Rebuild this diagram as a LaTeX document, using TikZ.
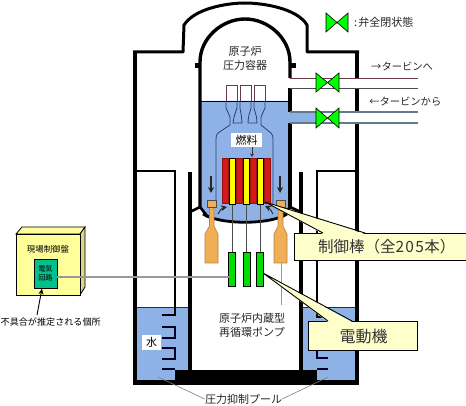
\documentclass[tikz,border=0pt]{standalone}
\usepackage{fontspec}
\setmainfont{Noto Sans CJK JP}
\usetikzlibrary{arrows.meta}
\definecolor{wat}{HTML}{8FB2E6}
\definecolor{maro}{HTML}{6A3A4A}
\definecolor{shr}{HTML}{2A3F78}
\definecolor{pip}{HTML}{66788F}
\definecolor{org}{HTML}{F0AE55}
\definecolor{rd}{HTML}{D81818}
\definecolor{yl}{HTML}{FFFF00}
\definecolor{gr}{HTML}{00E000}
\definecolor{vg}{HTML}{00FF00}
\definecolor{cal}{HTML}{FFFFCC}
\definecolor{pan}{HTML}{FFFF99}
\definecolor{pans}{HTML}{D8D88C}
\definecolor{tl}{HTML}{00C08C}
\tikzset{
  wall/.style={draw=black,line width=4pt},
  thinwall/.style={draw=black,line width=1.6pt},
  vent/.style={draw=black!85!blue,line width=2pt},
  lbl/.style={inner sep=0pt,font=\fontsize{11}{14}\selectfont,align=center,text=black!85},
  pipelbl/.style={inner sep=0pt,font=\fontsize{10.3}{13}\selectfont,text=black!85},
  sm/.style={inner sep=0pt,font=\fontsize{8.6}{10}\selectfont,align=center},
  bar/.style={draw=black,line width=0.6pt},
  callout/.style={draw=black,line width=0.9pt,fill=cal},
  bigl/.style={inner sep=0pt,font=\fontsize{15.5}{18}\selectfont,text=black!80},
  arr/.style={draw=black!85,line width=1.3pt,-{Stealth[length=6pt,width=6pt]}},
  wbox/.style={fill=white,inner sep=0pt,minimum width=19pt,minimum height=15pt}
}
\newcommand{\valveat}[4]{% x1 x2 ytop ybottom
  \draw[fill=vg,draw=black,line width=0.6pt] (#1,#3)--(#1,#4)--({(#1+#2)/2},{(#3+#4)/2})--cycle;
  \draw[fill=vg,draw=black,line width=0.6pt] (#2,#3)--(#2,#4)--({(#1+#2)/2},{(#3+#4)/2})--cycle;
}
\begin{document}
\begin{tikzpicture}[x=1pt,y=-1pt]
\useasboundingbox (0,0) rectangle (466,406);
% water
\fill[wat] (137,307) rectangle (188,380);
\fill[wat] (303,307) rectangle (355,380);
\fill[wat] (200,101)--(290,101)--(290,207)--(287,214) .. controls (270,224) and (220,224) .. (203,214)--(200,207)--cycle;
\draw[draw=shr!70!black,line width=0.7pt] (137,307)--(188,307) (303,307)--(355,307);
% outer containment
\draw[black,line width=3pt,line join=round] (133,52)--(183,52)--(184,25) .. controls (195,8) and (228,3) .. (245,3) .. controls (262,3) and (297,8) .. (307,25)--(307,52)--(359,52);
\draw[wall] (135,52)--(135,385);
\draw[wall] (357,52)--(357,78) (357,88)--(357,112) (357,123)--(357,385);
% inner boxes
\draw[thinwall,line join=miter] (135,171)--(175,171)--(175,315)--(162,315);
\draw[thinwall,line join=miter] (357,171)--(317,171)--(317,317)--(328,317);
\draw[wall] (190,172)--(190,370);
\draw[wall] (301,172)--(301,370);
% floor
\fill[black] (175,370) rectangle (317,385);
\fill[black] (133,380) rectangle (359,385);
% vents
\draw[vent] (162,327)--(175,327)--(175,338)--(162,338);
\draw[vent] (162,348)--(175,348)--(175,359)--(162,359);
\draw[vent] (162,368.5)--(175,368.5);
\draw[vent] (328,327)--(317,327)--(317,338)--(328,338);
\draw[vent] (328,348)--(317,348)--(317,358)--(328,358);
\draw[vent] (328,368.5)--(317,368.5);
% vessel
\draw[black,line width=3.4pt] (200,207)--(200,62) .. controls (200,38) and (222,19) .. (245,19) .. controls (268,19) and (290,38) .. (290,62)--(290,78);
\draw[black,line width=3.4pt] (290,88)--(290,112) (290,123)--(290,207);
\fill[black] (195,63) rectangle (199,68);
\fill[black] (291,63) rectangle (296,68);
\draw[black,line width=0.9pt] (200,101)--(290,101);
% skirts and bottom head
\draw[black,line width=2.6pt,line join=round] (190,212)--(200,207)--(208,217);
\draw[black,line width=2.6pt,line join=round] (301,212)--(290,207)--(282,217);
\draw[black,line width=2.8pt] (203,214) .. controls (220,225) and (270,225) .. (287,214);
% pipes
\fill[white] (288,79) rectangle (360,87);
\fill[wat] (288,113) rectangle (316,122);
\fill[white] (339,113) rectangle (360,122);
\draw[maro,line width=0.9pt] (290,78)--(418,78);
\draw[black!70,line width=0.9pt] (290,88)--(418,88);
\draw[pip,line width=1.3pt] (290,112)--(418,112) (290,123)--(418,123);
\valveat{316}{339}{73}{92}
\valveat{316}{339}{108}{128}
\valveat{326}{348}{13}{32}
% separators
\draw[maro,line width=0.8pt] (226,101)--(226,85)--(237,85)--(237,101) (240,101)--(240,85)--(251,85)--(251,101) (254,101)--(254,85)--(265,85)--(265,101);
\draw[shr,line width=0.8pt,line join=round] (226,101)--(226,108)--(230,117)--(230,125)--(218,133) .. controls (216,135) and (216,137) .. (216,140)--(216,205);
\draw[shr,line width=0.8pt,line join=round] (265,101)--(265,108)--(261,117)--(261,125)--(271,133) .. controls (273,135) and (273,137) .. (273,140)--(273,205);
\draw[shr,line width=0.8pt,line join=round] (237,101)--(237,108)--(234,117)--(233,123)--(242,123)--(241.5,117)--(240,108)--(240,101);
\draw[shr,line width=0.8pt,line join=round] (251,101)--(251,108)--(248.5,117)--(248,123)--(257,123)--(256.5,117)--(254,108)--(254,101);
% rods
\draw[black!70,line width=1pt] (232,204)--(232,252) (246,204)--(246,252) (260,204)--(260,252);
% fuel
\foreach \xa in {222,236,250,264}{\draw[bar,fill=rd,draw=rd!70!black] (\xa,158) rectangle (\xa+6.5,203);}
\foreach \xa in {229.5,243.5,257.5}{\draw[bar,fill=yl] (\xa,158) rectangle (\xa+5.5,204.5);}
% motors
\foreach \xa in {228.5,243,256.5}{\draw[draw=black,line width=0.5pt,fill=gr] (\xa,252) rectangle (\xa+6.8,286);}
% orange drives
\draw[fill=org,draw=org!75!black,line width=0.6pt] (209.5,207)--(209.5,226)--(205,234)--(205,263)--(218,263)--(218,234)--(214,226)--(214,207)--cycle;
\draw[fill=org,draw=black!70,line width=0.7pt] (207,200) rectangle (216,207);
\draw[fill=org,draw=org!75!black,line width=0.6pt] (278,207)--(278,226)--(274,234)--(274,263)--(287,263)--(287,234)--(283,226)--(283,207)--cycle;
\draw[fill=org,draw=black!70,line width=0.7pt] (276,200) rectangle (285,207);
\draw[black!40,line width=0.5pt] (281,263)--(281,305);
% flow arrows
\coordinate (fa1) at (211,176); \coordinate (fa2) at (211,193);
\coordinate (fb1) at (280,176); \coordinate (fb2) at (280,193);
\draw[arr] (fa1)--(fa2);
\draw[arr] (fb1)--(fb2);
\draw[arr,line width=0.9pt] (218,214) .. controls (219,211) and (222,208) .. (227,207);
\draw[arr,line width=0.9pt] (273,214) .. controls (272,211) and (269,208) .. (265,206);
% fuel label
\node[fill=white,minimum width=31pt,minimum height=14pt,inner sep=0pt,font=\fontsize{11}{13}\selectfont] (fuel) at (246.5,140) {燃料};
\coordinate (fueltip) at (252,157);
\draw[draw=black!80,line width=0.6pt,-{Stealth[length=3.5pt,width=4pt]}] (252,147)--(fueltip);
% left panel
\draw[fill=pan,draw=black,line width=0.8pt] (16,234)--(22,227)--(85,227)--(80,234)--cycle;
\draw[fill=pans,draw=black,line width=0.8pt] (80,234)--(85,227)--(85,287)--(80,295)--cycle;
\node[draw=black,line width=0.8pt,fill=pan,minimum width=64pt,minimum height=61pt,inner sep=0pt,anchor=north west] (panel) at (16,234) {};
\node[sm,font=\fontsize{8.4}{10}\selectfont] (paneltxt) at (48,249) {現場制御盤};
\node[draw=black,line width=0.8pt,fill=tl,minimum width=23pt,minimum height=29pt,inner sep=0pt,font=\fontsize{7.2}{9.5}\selectfont,align=center] (circ) at (45.5,273.5) {電気\\回路};
\coordinate (motorL) at (228.5,277);
\draw[black!40,line width=1.6pt] (circ.east|-motorL)--(motorL);
\node[sm,anchor=west,font=\fontsize{9.1}{11}\selectfont] (defect) at (0.5,322) {不具合が推定される個所};
\coordinate (defa) at (37,315);
\draw[black,line width=0.9pt,-{Stealth[length=6pt,width=5pt]}] (defa)--(42,288.5);
% callouts
\coordinate (t1) at (265,202);
\coordinate (t2) at (263,273);
\node[callout,minimum width=172pt,minimum height=27pt,inner sep=0pt,anchor=north west] (cb1) at (294,233) {};
\node[callout,minimum width=109pt,minimum height=29pt,inner sep=0pt,anchor=north west] (cb2) at (308,321) {};
\fill[cal] (t1)--(323,234)--(365,234)--cycle;
\draw[black,line width=0.9pt] (323,233)--(t1)--(365,233);
\fill[cal] (t2)--(328,322)--(352,322)--cycle;
\draw[black,line width=0.9pt] (328,321)--(t2)--(352,321);
\node[bigl,anchor=west] (cbt1) at (318,247) {制御棒（全2\kern1.2pt 0\kern1.2pt 5\kern0.5pt 本）};
\node[bigl,font=\fontsize{16}{18}\selectfont] (cbt2) at (363.5,336) {電動機};
% texts
\node[lbl] (rpv) at (245,58) {原子炉\\圧力容器};
\node[lbl,anchor=west] (leg) at (354,22) {:\kern1pt 弁全閉状態};
\node[pipelbl,anchor=west] (to) at (371,66) {→タービンへ};
\node[pipelbl,anchor=west] (from) at (369,102) {←タービンから};
\node[lbl] (rip) at (252,325) {原子炉内蔵型\\再循環ポンプ};
\node[wbox,font=\fontsize{11}{13}\selectfont] (wtr) at (151.5,342.5) {水};
\node[lbl] (pool) at (243.5,399) {圧力抑制プール};
\draw[black!50,line width=0.6pt] (158,377)--(pool.west);
\draw[black!50,line width=0.6pt] (328,377)--(pool.east);
\end{tikzpicture}
\end{document}
